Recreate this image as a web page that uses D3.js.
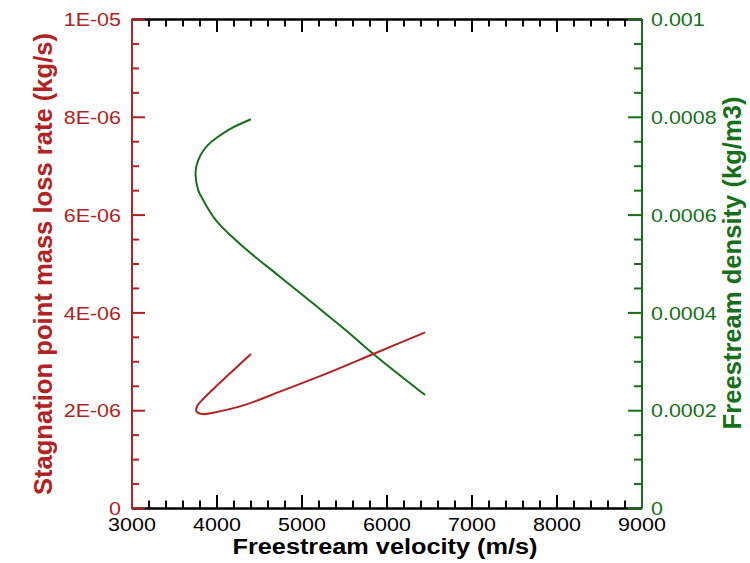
<!DOCTYPE html>
<html>
<head>
<meta charset="utf-8">
<script src="https://cdn.jsdelivr.net/npm/d3@7"></script>
<style>
  body { margin: 0; background: #fff; }
  text { font-family: "Liberation Sans", Arial, sans-serif; }
</style>
</head>
<body>
<div id="chart"></div>
<script>
// data
var massVelocity = [6454, 5845, 5335, 4746, 4354, 3961, 3843, 3763, 3775, 3843, 3961, 4157, 4405];
var massRate = [3.59e-6, 3.15e-6, 2.78e-6, 2.38e-6, 2.12e-6, 1.95e-6, 1.92e-6, 1.98e-6, 2.09e-6, 2.23e-6, 2.43e-6, 2.75e-6, 3.15e-6];
var densVelocity = [6454, 5845, 5532, 5138, 4746, 4354, 4193, 4052, 3969, 3898, 3836, 3784, 3754, 3761, 3787, 3834, 3898, 3993, 4157, 4405];
var density = [0.000231, 0.000315, 0.000362, 0.000418, 0.000473, 0.000528, 0.000553, 0.000577, 0.000594, 0.000613, 0.000632, 0.000650, 0.000681, 0.000697, 0.000712, 0.000728, 0.000742, 0.000756, 0.000775, 0.000795];

var xTicks = [3000, 4000, 5000, 6000, 7000, 8000, 9000];
var leftTicks = [0, 2e-6, 4e-6, 6e-6, 8e-6, 1e-5];
var rightTicks = [0, 0.0002, 0.0004, 0.0006, 0.0008, 0.001];

var red = "#b22222", green = "#16701a";

var margin = {top: 19, right: 109, bottom: 55, left: 131.5},
    width = 641.5 - margin.left,
    height = 508 - margin.top;

var svg = d3.select("#chart")
  .append("svg")
    .attr("width", 750)
    .attr("height", 563)
  .append("g")
    .attr("transform", "translate(" + margin.left + "," + margin.top + ")");

var x = d3.scaleLinear().domain([3000, 9000]).range([0, width]);
var yL = d3.scaleLinear().domain([0, 1e-5]).range([height, 0]);
var yR = d3.scaleLinear().domain([0, 0.001]).range([height, 0]);

// minor tick values
function minors(lo, hi, step, majorStep) {
  var out = [];
  for (var v = lo; v <= hi + step / 2; v += step) {
    var r = v / majorStep;
    if (Math.abs(r - Math.round(r)) > 1e-6) out.push(v);
  }
  return out;
}

function sciFmt(d) {
  if (d === 0) return "0";
  var p = d.toExponential(0).split("e");
  var e = +p[1];
  return p[0] + "E" + (e < 0 ? "-" : "+") + String(Math.abs(e)).padStart(2, "0");
}

// squash labels a bit vertically like the original
function styleLabels(g, dx, dy, anchor, color) {
  g.selectAll("text")
    .attr("x", dx).attr("y", 0).attr("dy", null)
    .attr("transform", "translate(0," + dy + ") scale(1,0.85)")
    .style("text-anchor", anchor)
    .style("font-size", "21.5px")
    .style("font-family", "'Liberation Sans', Arial, sans-serif")
    .attr("fill", color);
}

function colorAxis(g, color) {
  g.select(".domain").attr("stroke", color).attr("stroke-width", 2);
  g.selectAll(".tick line").attr("stroke", color).attr("stroke-width", 2);
}

// X axes (black)
var xMin = minors(3000, 9000, 200, 1000);
svg.append("g").attr("transform", "translate(0," + height + ")")
  .call(d3.axisBottom(x).tickValues(xMin).tickSize(-7.5).tickSizeOuter(0).tickFormat(""))
  .call(colorAxis, "#000");
svg.append("g").attr("transform", "translate(0," + height + ")")
  .call(d3.axisBottom(x).tickValues(xTicks).tickSize(-13).tickSizeOuter(0).tickFormat(d3.format("d")))
  .call(colorAxis, "#000")
  .call(styleLabels, 0, 22.7, "middle", "#000");
svg.append("g")
  .call(d3.axisTop(x).tickValues(xMin).tickSize(-7.5).tickSizeOuter(0).tickFormat(""))
  .call(colorAxis, "#000");
svg.append("g")
  .call(d3.axisTop(x).tickValues(xTicks).tickSize(-13).tickSizeOuter(0).tickFormat(""))
  .call(colorAxis, "#000");

// left axis (red)
svg.append("g")
  .call(d3.axisLeft(yL).tickValues(minors(0, 1e-5, 5e-7, 2e-6)).tickSize(-7.5).tickSizeOuter(0).tickFormat(""))
  .call(colorAxis, red);
svg.append("g")
  .call(d3.axisLeft(yL).tickValues(leftTicks).tickSize(-13.5).tickSizeOuter(0).tickFormat(sciFmt))
  .call(colorAxis, red)
  .call(styleLabels, -10.5, 6.6, "end", red);

// right axis (green)
svg.append("g").attr("transform", "translate(" + width + ",0)")
  .call(d3.axisRight(yR).tickValues(minors(0, 0.001, 0.00005, 0.0002)).tickSize(-7.5).tickSizeOuter(0).tickFormat(""))
  .call(colorAxis, green);
svg.append("g").attr("transform", "translate(" + width + ",0)")
  .call(d3.axisRight(yR).tickValues(rightTicks).tickSize(-13.5).tickSizeOuter(0).tickFormat(function(d) { return d === 0 ? "0" : String(+d.toFixed(4)); }))
  .call(colorAxis, green)
  .call(styleLabels, 9.5, 6.6, "start", green);

// curves
var lineL = d3.line()
  .x(function(d) { return x(d[0]); })
  .y(function(d) { return yL(d[1]); })
  .curve(d3.curveCatmullRom.alpha(0.5));
var lineR = d3.line()
  .x(function(d) { return x(d[0]); })
  .y(function(d) { return yR(d[1]); })
  .curve(d3.curveCatmullRom.alpha(0.5));

svg.append("path")
  .datum(d3.zip(densVelocity, density))
  .attr("fill", "none").attr("stroke", green).attr("stroke-width", 2)
  .attr("d", lineR);
svg.append("path")
  .datum(d3.zip(massVelocity, massRate))
  .attr("fill", "none").attr("stroke", red).attr("stroke-width", 2)
  .attr("d", lineL);

// titles
var root = d3.select("svg");
root.append("g")
  .attr("transform", "translate(385,554) scale(1,0.84)")
  .append("text")
    .attr("text-anchor", "middle")
    .style("font-size", "25.3px").style("font-weight", "bold")
    .text("Freestream velocity (m/s)");
root.append("text")
  .attr("transform", "translate(52,264) rotate(-90)")
  .attr("text-anchor", "middle")
  .attr("fill", red)
  .style("font-size", "25.6px").style("font-weight", "bold")
  .text("Stagnation point mass loss rate (kg/s)");
root.append("text")
  .attr("transform", "translate(741,263) rotate(-90)")
  .attr("text-anchor", "middle")
  .attr("fill", green)
  .style("font-size", "25.6px").style("font-weight", "bold")
  .text("Freestream density (kg/m3)");
</script>
</body>
</html>
